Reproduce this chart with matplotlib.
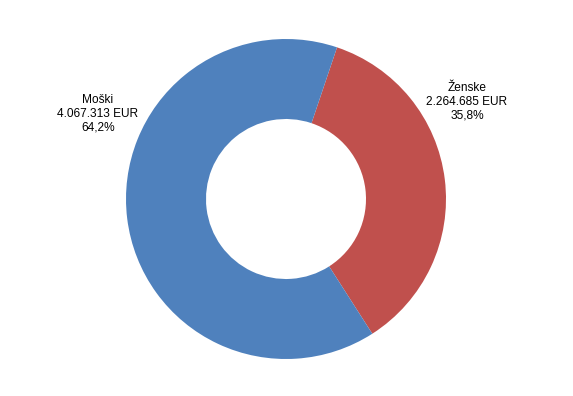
import matplotlib.pyplot as plt

labels = ['Ženske', 'Moški']
values = [2264685, 4067313]
value_text = ['2.264.685 EUR', '4.067.313 EUR']
pct_text = ['35,8%', '64,2%']
colors = ['#C0504D', '#4F81BD']

plt.rcParams['font.family'] = ['Liberation Sans', 'DejaVu Sans']

fig = plt.figure(figsize=(5.73, 3.96), dpi=100)
ax = fig.add_axes([0, 0, 1, 1])

R = 160.0
cx, cy = 286, 199
ax.pie(values, colors=colors, startangle=71.4, counterclock=False,
       radius=1, wedgeprops=dict(width=0.5, linewidth=0))

# label positions (pixel centres of the text blocks)
label_pos = [(467, 102), (98, 114)]
for lab, vt, pt, (px, py) in zip(labels, value_text, pct_text, label_pos):
    ax.text((px - cx) / R, (cy - py) / R, f'{lab}\n{vt}\n{pt}',
            ha='center', va='center', fontsize=8.6, linespacing=1.2)

ax.set_xlim(-cx / R, (573 - cx) / R)
ax.set_ylim(-(396 - cy) / R, cy / R)
ax.set_aspect('equal')
ax.axis('off')

fig.savefig('out.png', dpi=100)
